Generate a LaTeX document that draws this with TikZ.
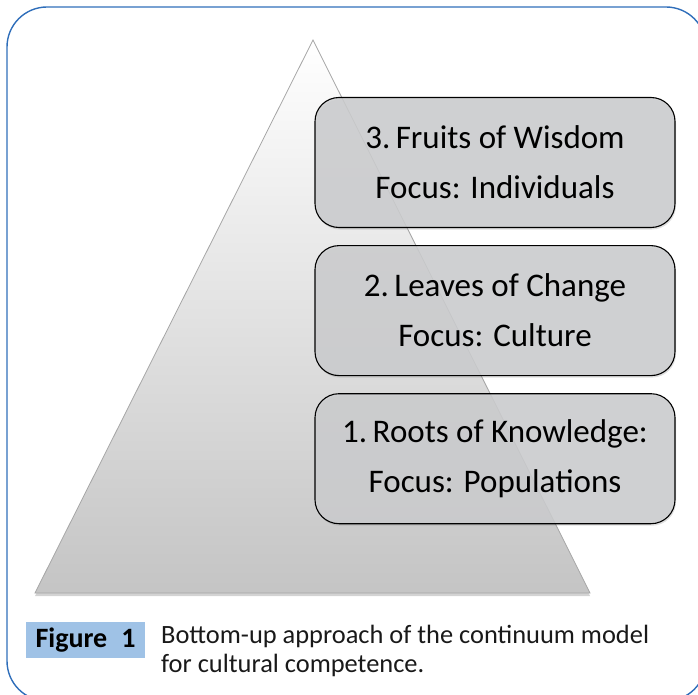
\documentclass[tikz,border=0pt]{standalone}
\usepackage{fontspec}
\setmainfont{Carlito}
\usetikzlibrary{positioning,shadows}
\definecolor{frameblue}{HTML}{2F6EBA}
\definecolor{tagblue}{HTML}{9FC2E6}
\definecolor{stagegray}{HTML}{CDCED0}
\definecolor{edgegray}{HTML}{A6A6A6}

\begin{document}
\begin{tikzpicture}[
        x=1pt, y=-1pt, % pixel grid, y grows downwards
        stage/.style={draw=black, line width=1.1pt, rounded corners=24pt,
            fill=stagegray, fill opacity=0.85, text opacity=1,
            minimum width=360pt, minimum height=130pt, inner sep=0pt,
            align=center, font=\fontsize{33}{50}\selectfont,
            drop shadow={opacity=0.25, shadow xshift=1pt, shadow yshift=-2pt}}, % Stufen
        tag/.style={fill=tagblue, minimum width=119pt, minimum height=36pt,
            inner sep=0pt, font=\bfseries\fontsize{28}{30}\selectfont},
        caption/.style={anchor=north west, align=left, inner sep=0pt,
            font=\fontsize{26.4}{29}\selectfont, text=black!90},
    ]
    \useasboundingbox (0,0) rectangle (698,695);
    \clip (0,0) rectangle (698,695);

    % Rahmen
    \draw[frameblue, line width=1.4pt, rounded corners=40pt] (7,7) rectangle (706,701);

    % Pyramide
    \coordinate (apex) at (313,40);
    \coordinate (baseL) at (35,593);
    \coordinate (baseR) at (590,593);
    \path[draw=edgegray, line width=0.8pt, top color=white, bottom color=black!23,
        drop shadow={opacity=0.35, shadow xshift=0pt, shadow yshift=-3pt}]
        (apex) -- (baseL) -- (baseR) -- cycle;

    % Stufen
    \node[stage] (fruits) at (495,162.5) {3.\,Fruits of Wisdom\\Focus: Individuals};
    \node[stage, below=17pt of fruits] (leaves) {2.\,Leaves of Change\\Focus: Culture};
    \node[stage, below=17pt of leaves] (roots) {1.\,Roots of Knowledge:\\Focus: Populations};

    % Bildunterschrift
    \node[tag] (figtag) at (85.5,640) {Figure\hspace{0.5em}1};
    \node[caption] (captext) at (161,625) {Bottom-up approach of the continuum model\\for cultural competence.};
\end{tikzpicture}
\end{document}
